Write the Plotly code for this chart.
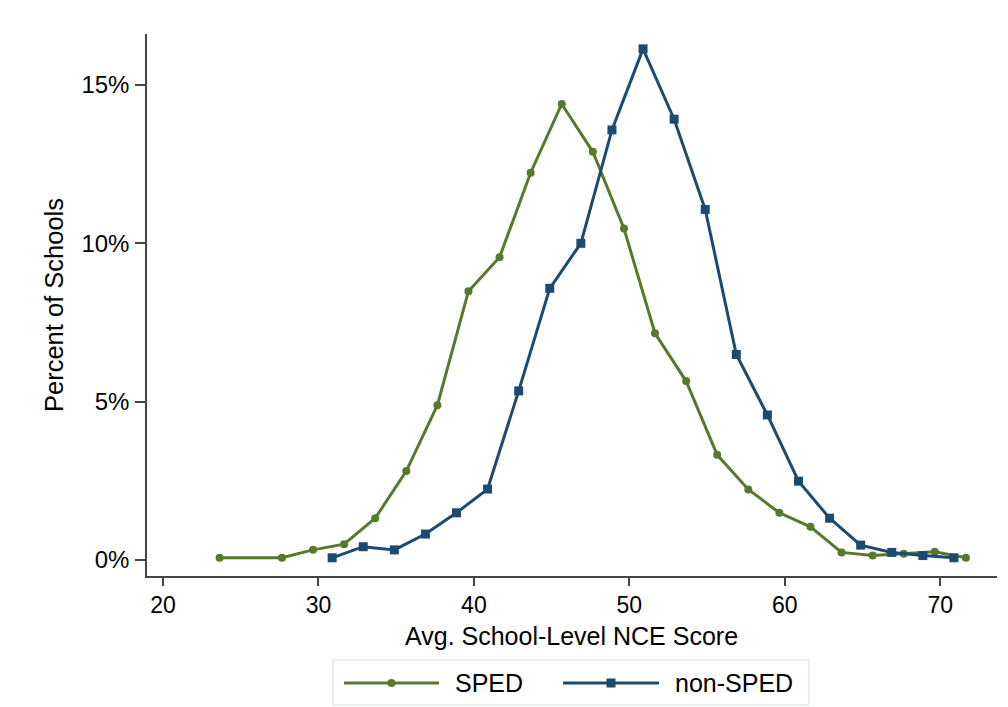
import plotly.graph_objects as go

# SPED: average school-level NCE score bins and percent of schools
sped_x = [23.64, 27.65, 29.65, 31.65, 33.65, 35.65, 37.65, 39.65, 41.65, 43.65, 45.65, 47.65,
          49.65, 51.65, 53.65, 55.65, 57.65, 59.65, 61.65, 63.65, 65.65, 67.65, 69.65, 71.65]
sped_pct = [0.07, 0.07, 0.32, 0.50, 1.32, 2.81, 4.89, 8.49, 9.56, 12.23, 14.40, 12.89,
            10.47, 7.16, 5.65, 3.32, 2.23, 1.49, 1.05, 0.24, 0.14, 0.20, 0.26, 0.07]

# non-SPED
nonsped_x = [30.88, 32.88, 34.88, 36.88, 38.88, 40.88, 42.88, 44.88, 46.88, 48.88, 50.88,
             52.88, 54.88, 56.88, 58.88, 60.88, 62.88, 64.88, 66.88, 68.88, 70.88]
nonsped_pct = [0.07, 0.42, 0.32, 0.82, 1.49, 2.24, 5.34, 8.58, 10.0, 13.58, 16.14,
               13.92, 11.07, 6.49, 4.58, 2.49, 1.32, 0.47, 0.24, 0.14, 0.07]

x_ticks = [20, 30, 40, 50, 60, 70]
y_ticks = [0, 5, 10, 15]
y_ticklabels = ["0%", "5%", "10%", "15%"]

green = "#56792c"
navy = "#1b4a73"
axis_col = "#444444"
font = "Liberation Sans, Arial, sans-serif"

fig = go.Figure()
fig.add_trace(go.Scatter(x=sped_x, y=sped_pct, mode="lines+markers", name="SPED",
                         line=dict(color=green, width=3),
                         marker=dict(symbol="circle", size=8, color=green)))
fig.add_trace(go.Scatter(x=nonsped_x, y=nonsped_pct, mode="lines+markers", name="non-SPED",
                         line=dict(color=navy, width=3),
                         marker=dict(symbol="square", size=9, color=navy)))

# the page body has an 8px margin, so the figure is 8px smaller and everything
# below is given in window pixels then shifted
OFF = 8
W, H = 1008 - OFF, 707 - OFF
L, R, T, B = 147, 997, 34, 576
def px(x):
    return (x - L) / (R - L)
def py(y):
    return (B - y) / (B - T)

# legend drawn by hand so the key lines are long like the original
shapes = [
    dict(type="rect", xref="paper", yref="paper", x0=px(333), x1=px(809), y0=py(660), y1=py(705),
         line=dict(color="#e3eaec", width=1.5), fillcolor="white"),
]
keys = [("SPED", green, "circle", 344, 439, 455, 4), ("non-SPED", navy, "rect", 563, 659, 675, 4.5)]
annotations = []
for name, col, kind, a, b, tx, r in keys:
    ym = py(683)
    shapes.append(dict(type="line", xref="paper", yref="paper", x0=px(a), x1=px(b), y0=ym, y1=ym,
                       line=dict(color=col, width=3)))
    c = (a + b) / 2
    shapes.append(dict(type=kind, xref="paper", yref="paper", xsizemode="pixel", ysizemode="pixel",
                       xanchor=px(c), yanchor=ym, x0=-r, x1=r, y0=-r, y1=r,
                       line=dict(color=col, width=0), fillcolor=col))
    annotations.append(dict(xref="paper", yref="paper", x=px(tx - 2), y=ym, text=name, showarrow=False,
                            xanchor="left", yanchor="middle", font=dict(size=25, color="black", family=font)))

# axis titles
annotations.append(dict(xref="paper", yref="paper", x=px(571), y=py(636), text="Avg. School-Level NCE Score",
                        showarrow=False, xanchor="center", yanchor="middle",
                        font=dict(size=25, color="black", family=font)))
annotations.append(dict(xref="paper", yref="paper", x=px(54), y=py(305), text="Percent of Schools",
                        showarrow=False, xanchor="center", yanchor="middle", textangle=-90,
                        font=dict(size=25.5, color="black", family=font)))

fig.update_layout(
    width=W, height=H,
    margin=dict(l=L - OFF, r=1008 - R, t=T - OFF, b=707 - B),
    paper_bgcolor="white", plot_bgcolor="white",
    showlegend=False,
    font=dict(family=font, color="black", size=23),
    shapes=shapes, annotations=annotations,
    xaxis=dict(range=[18.97, 73.65], tickvals=x_ticks, ticks="outside", ticklen=8, tickwidth=1.5,
               tickcolor=axis_col, showline=True, linecolor=axis_col, linewidth=1.5,
               showgrid=False, zeroline=False, tickfont=dict(size=23)),
    yaxis=dict(range=[-0.505, 16.61], tickvals=y_ticks, ticktext=y_ticklabels, ticks="outside",
               ticklen=10, tickwidth=1.5, tickcolor=axis_col, showline=True, linecolor=axis_col,
               linewidth=1.5, showgrid=False, zeroline=False, tickfont=dict(size=24),
               ticklabelstandoff=1),
)

fig.write_html("out.html")
